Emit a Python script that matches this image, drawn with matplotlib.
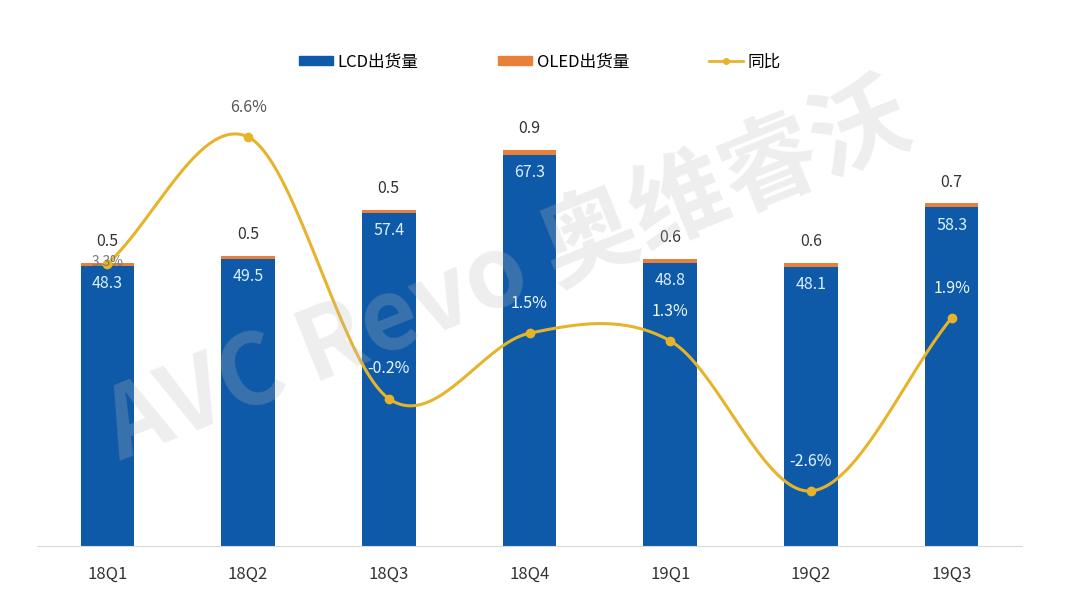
import numpy as np
import matplotlib
matplotlib.use("Agg")
from matplotlib import pyplot as plt
from matplotlib.patches import Patch
from matplotlib.lines import Line2D

plt.rcParams['font.family'] = ['Noto Sans CJK SC', 'DejaVu Sans']

quarters = ['18Q1', '18Q2', '18Q3', '18Q4', '19Q1', '19Q2', '19Q3']
lcd = [48.3, 49.5, 57.4, 67.3, 48.8, 48.1, 58.3]
oled = [0.5, 0.5, 0.5, 0.9, 0.6, 0.6, 0.7]
yoy = [3.3, 6.6, -0.2, 1.5, 1.3, -2.6, 1.9]
yoy_inside = [False, False, True, True, True, True, True]

blue = '#0f5aa8'
orange = '#e8803a'
gold = '#e6b42a'


def catmull_rom(xs, ys, n=40):
    # smooth curve through the points, like excel's smoothed line
    xs = np.asarray(xs, float)
    ys = np.asarray(ys, float)
    px = np.concatenate([[2 * xs[0] - xs[1]], xs, [2 * xs[-1] - xs[-2]]])
    py = np.concatenate([[2 * ys[0] - ys[1]], ys, [2 * ys[-1] - ys[-2]]])
    outx, outy = [], []
    t = np.linspace(0, 1, n)
    for i in range(1, len(px) - 2):
        for p, out in ((px, outx), (py, outy)):
            p0, p1, p2, p3 = p[i - 1], p[i], p[i + 1], p[i + 2]
            out.extend(0.5 * ((2 * p1) + (-p0 + p2) * t
                              + (2 * p0 - 5 * p1 + 4 * p2 - p3) * t ** 2
                              + (-p0 + 3 * p1 - 3 * p2 + p3) * t ** 3))
    return np.array(outx), np.array(outy)


fig = plt.figure(figsize=(10.8, 6.1), dpi=100)
ax = fig.add_axes([37 / 1080, 1 - 546 / 610, 985 / 1080, 446 / 610])
x = np.arange(len(quarters))
w = 0.38
ax.bar(x, lcd, w, color=blue, zorder=2)
ax.bar(x, oled, w, bottom=lcd, color=orange, zorder=2)
ax.set_xlim(-0.5, len(quarters) - 0.5)
ax.set_ylim(0, 76.8)
ax.set_yticks([])
for s in ['top', 'right', 'left']:
    ax.spines[s].set_visible(False)
ax.spines['bottom'].set_color('#d9d9d9')
ax.set_xticks(x)
ax.set_xticklabels(quarters, fontsize=12, color='#333333')
ax.tick_params(axis='x', length=0, pad=14)

for i in range(len(quarters)):
    ax.text(x[i], lcd[i] - 1.6, f'{lcd[i]}', ha='center', va='top',
            fontsize=11.5, color='#d8f0ff', zorder=5)
    ax.text(x[i], lcd[i] + oled[i] + 2.2, f'{oled[i]}', ha='center', va='bottom',
            fontsize=11.5, color='#333333', zorder=5)

ax2 = ax.twinx()
ax2.set_ylim(-4.03, 7.56)
ax2.axis('off')
cx, cy = catmull_rom(x, yoy)
ax2.plot(cx, cy, color=gold, lw=2.2, zorder=3)
ax2.plot(x, yoy, 'o', color=gold, ms=6, zorder=4)
for i in range(len(quarters)):
    if i == 0:
        # squeezed between the bar top and the OLED label, as in the source
        ax2.text(x[i], yoy[i] + 0.05, f'{yoy[i]}%', ha='center', va='center',
                 fontsize=10, color='#777777', zorder=6)
        continue
    c = '#e8f6ff' if yoy_inside[i] else '#555555'
    ax2.text(x[i], yoy[i] + 0.55, f'{yoy[i]}%', ha='center', va='bottom',
             fontsize=11.5, color=c, zorder=6)

handles = [Patch(color=blue), Patch(color=orange),
           Line2D([0], [0], color=gold, lw=2, marker='o', ms=4)]
fig.legend(handles, ['LCD出货量', 'OLED出货量', '同比'], loc='center',
           bbox_to_anchor=(0.5, 1 - 62 / 610), ncol=3, frameon=False,
           fontsize=12, columnspacing=4.8, handlelength=2.0, handleheight=0.5,
           handletextpad=0.3)

# watermark
fig.text(0.47, 0.55, 'AVC Revo 奥维睿沃', fontsize=70, fontweight='bold',
         color='#bbbbbb', alpha=0.25, rotation=22, ha='center', va='center',
         zorder=10)

fig.savefig('out.png', dpi=100)
